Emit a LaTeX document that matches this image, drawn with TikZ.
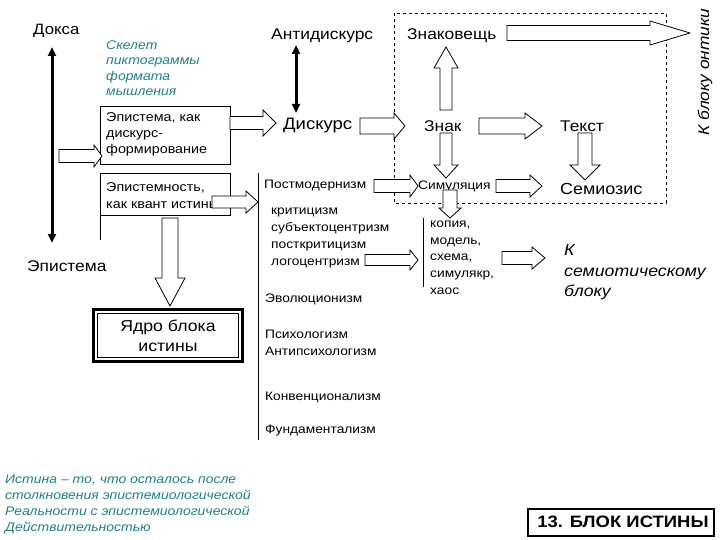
\documentclass[tikz,border=0pt]{standalone}
\usepackage{fontspec}
\setmainfont{Liberation Sans}[FakeStretch=1.12]
\usetikzlibrary{arrows.meta}
\definecolor{teal1}{RGB}{30,130,130}
\newcommand{\harr}[6]{\draw[fill=white,line width=0.8pt] (#1,{#3-#4}) -- ({#2-#6},{#3-#4}) -- ({#2-#6},{#3-#5}) -- (#2,#3) -- ({#2-#6},{#3+#5}) -- ({#2-#6},{#3+#4}) -- (#1,{#3+#4}) -- cycle;}
\newcommand{\varr}[6]{\draw[fill=white,line width=0.8pt] ({#1-#4},#2) -- ({#1-#4},{#3-#6}) -- ({#1-#5},{#3-#6}) -- (#1,#3) -- ({#1+#5},{#3-#6}) -- ({#1+#4},{#3-#6}) -- ({#1+#4},#2) -- cycle;}
\begin{document}
\begin{tikzpicture}[x=1pt,y=-1pt,
 t/.style={anchor=west,inner sep=0pt,align=left},
 big/.style={t,font=\fontsize{15.5}{18}\selectfont},
 sm/.style={t,font=\fontsize{12.3}{16}\selectfont},
 tl/.style={t,font=\fontsize{12.5}{15.5}\selectfont\itshape,text=teal1},
 dbl/.style={{Triangle[length=9pt,width=8pt]}-{Triangle[length=9pt,width=8pt]},line width=3pt}]
\useasboundingbox (0,0) rectangle (720,540);
% boxes and lines
\draw[line width=0.8pt] (100,106) rectangle (230,164);
\draw[line width=0.8pt] (230,215) -- (100,215) -- (100,173) -- (230,173) -- cycle;
\draw[line width=0.8pt] (100,215) -- (100,240);
\draw[line width=0.8pt] (258,173) -- (258,440);
\draw[line width=0.8pt] (423,218) -- (423,287);
\draw[dashed,line width=0.7pt] (394,13) rectangle (666,203);
\draw[line width=3pt] (93,309) rectangle (242,361);
\draw[line width=0.6pt] (97,313) rectangle (238,357);
\draw[line width=2.5pt] (528,509) rectangle (714,536);
% double arrows
\node[big,font=\fontsize{15}{18}\selectfont] (doxa) at (33,31) {Докса};
\node[t,font=\fontsize{15.5}{16}\selectfont] (epis) at (27,266) {Эпистема};
\draw[dbl] (52,47) -- (52,243);
\node[big,font=\fontsize{15.5}{18}\selectfont] (anti) at (271,36) {Антидискурс};
\node[big,font=\fontsize{16.5}{18}\selectfont] (disk) at (283,126) {Дискурс};
\draw[dbl] (296,45) -- (296,113);
% texts
\node[tl] (skel) at (106,68) {Скелет\\пиктограммы\\формата\\мышления};
\node[t,font=\fontsize{12.8}{16}\selectfont] (b1) at (106,134) {Эпистема, как\\дискурс-\\формирование};
\node[t,font=\fontsize{12.8}{16.5}\selectfont] (b2) at (106,195.5) {Эпистемность,\\как квант истины};
\node[big] (znv) at (407,36) {Знаковещь};
\node[big] (zn) at (424,126) {Знак};
\node[big] (tx) at (560,126) {Текст};
\node[sm] (pm) at (264,186) {Постмодернизм};
\node[sm] (sim) at (418,186) {Симуляция};
\node[big,font=\fontsize{16}{18}\selectfont] (sem) at (560,189) {Семиозис};
\node[sm,font=\fontsize{12.3}{17}\selectfont] (krit) at (271,237.5) {критицизм\\субъектоцентризм\\посткритицизм\\логоцентризм};
\node[sm] (evo) at (265,299) {Эволюционизм};
\node[sm,font=\fontsize{12.3}{17}\selectfont] (psy) at (265,342.5) {Психологизм\\Антипсихологизм};
\node[sm] (konv) at (265,397) {Конвенционализм};
\node[sm] (fund) at (265,431) {Фундаментализм};
\node[sm,font=\fontsize{12.3}{16.7}\selectfont] (kop) at (430,257.5) {копия,\\модель,\\схема,\\симулякр,\\хаос};
\node[t,font=\fontsize{15.8}{20.5}\selectfont\itshape] (ksem) at (564,272.5) {К\\семиотическому\\блоку};
\node[font=\fontsize{15.5}{16}\selectfont\itshape,rotate=90,inner sep=0pt] (kont) at (705,72) {К блоку онтики};
\node[align=center,font=\fontsize{15.8}{20}\selectfont,inner sep=0pt] (core) at (168,336) {Ядро блока\\истины};
\node[tl,font=\fontsize{12.5}{16}\selectfont\itshape] (ist) at (5,504) {Истина – то, что осталось после\\столкновения эпистемиологической\\Реальности с эпистемиологической\\Действительностью};
\node[font=\fontsize{16.5}{18}\selectfont\bfseries,inner sep=0pt] (title) at (623,522) {13. БЛОК ИСТИНЫ};
% hollow arrows
\harr{59}{102}{156}{6.5}{11}{8}
\harr{230}{276}{123}{6.5}{13}{13}
\harr{212}{258}{202}{6}{11}{12}
\varr{170}{218}{306}{8}{15}{28}
\harr{360}{405}{126}{8}{13}{11}
\varr{446}{110}{47}{6}{12}{-21}
\harr{507}{690}{33}{7.5}{12}{40}
\harr{479}{542}{126}{8}{13}{17}
\varr{446}{133}{178}{6}{12}{13}
\varr{585}{133}{180}{7}{15}{15}
\harr{374}{418}{186}{6.5}{11}{8}
\harr{496}{542}{186}{6.5}{11}{12}
\varr{450}{190}{218}{7}{11}{10}
\harr{365}{418}{260}{5.5}{10}{8}
\harr{502}{545}{258}{6.5}{11}{13}
\end{tikzpicture}
\end{document}
